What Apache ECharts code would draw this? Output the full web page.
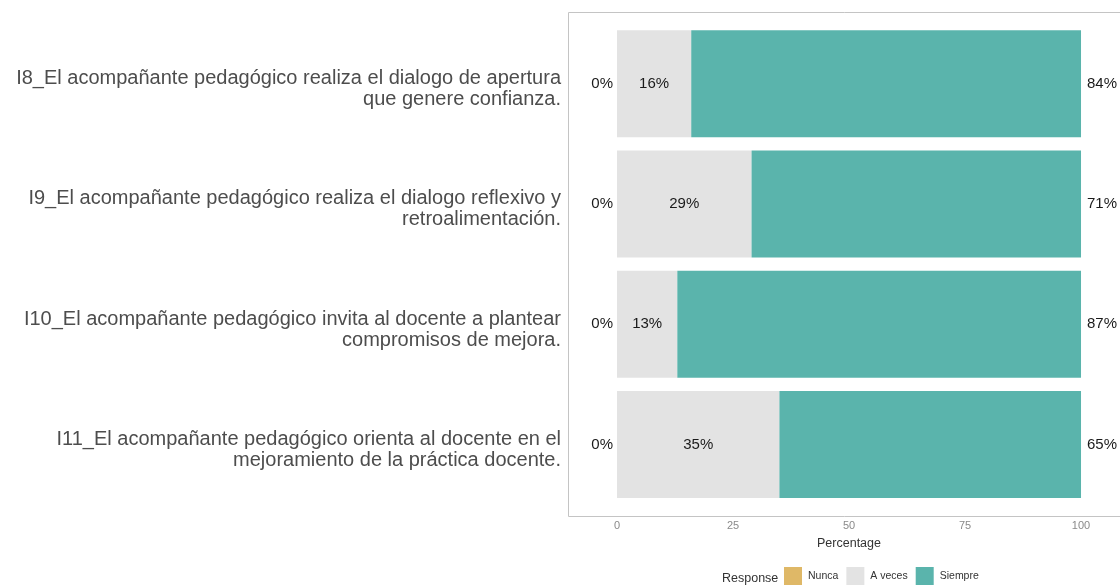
<!DOCTYPE html>
<html>
<head>
<meta charset="utf-8">
<script src="https://cdn.jsdelivr.net/npm/echarts@6/dist/echarts.min.js"></script>
<style>
  html, body { margin: 0; padding: 0; background: #fff; }
  #container { width: 1120px; height: 585px; }
</style>
</head>
<body>
<div id="container"></div>
<script type="text/javascript">
    // items, top to bottom
    var items = [
        'I8_El acompañante pedagógico realiza el dialogo de apertura\nque genere confianza.',
        'I9_El acompañante pedagógico realiza el dialogo reflexivo y\nretroalimentación.',
        'I10_El acompañante pedagógico invita al docente a plantear\ncompromisos de mejora.',
        'I11_El acompañante pedagógico orienta al docente en el\nmejoramiento de la práctica docente.'
    ];
    var nunca = [0, 0, 0, 0];
    var aveces = [16, 29, 13, 35];
    var siempre = [84, 71, 87, 65];
    var xTicks = [0, 25, 50, 75, 100];

    var chartDom = document.getElementById('container');
    var myChart = echarts.init(chartDom);
    var option;

    const colors = ['#DFB867', '#E3E3E3', '#5AB4AC'];
    const pct = function (p) { return p.value + '%'; };

    option = {
        color: colors,
        animation: false,
        textStyle: { fontFamily: 'Liberation Sans, Arial, sans-serif' },
        grid: {
            left: 568,
            right: 0,
            top: 23.5,
            bottom: 80.5
        },
        graphic: [
            {
                // panel border
                type: 'rect',
                shape: { x: 568.5, y: 12.5, width: 600, height: 504 },
                style: { fill: 'none', stroke: '#c4c4c4', lineWidth: 1 },
                z: -1
            },
            {
                type: 'text',
                x: 722, y: 572,
                style: { text: 'Response', fontSize: 12.5, fill: '#333', fontFamily: 'Liberation Sans, Arial, sans-serif' }
            }
        ],
        legend: {
            data: ['Nunca', 'A veces', 'Siempre'],
            left: 784,
            top: 567,
            padding: 0,
            itemWidth: 18,
            itemHeight: 18,
            itemGap: 8,
            icon: 'rect',
            textStyle: { fontSize: 10.5, color: '#333', padding: [4, 0, 0, 1] }
        },
        xAxis: {
            type: 'value',
            min: -10.56,
            max: 108.4,
            offset: 12,
            name: 'Percentage',
            nameLocation: 'middle',
            nameGap: 21,
            nameTextStyle: { fontSize: 12.5, color: '#333', padding: [0, 0, 0, 10] },
            axisLine: { show: false },
            axisTick: { show: false },
            splitLine: { show: false },
            axisLabel: {
                customValues: xTicks,
                fontSize: 11,
                color: '#8a8a8a',
                margin: 4
            }
        },
        yAxis: {
            type: 'category',
            inverse: true,
            data: items,
            axisLine: { show: false },
            axisTick: { show: false },
            axisLabel: {
                margin: 7,
                align: 'right',
                // empty first line pushes the two text lines down a little
                formatter: function (v) {
                    return '{gap| }\n{t|' + v.split('\n').join('}\n{t|') + '}';
                },
                rich: {
                    gap: { fontSize: 4, lineHeight: 11 },
                    t: { fontSize: 20, lineHeight: 21, color: '#4d4d4d', align: 'right' }
                }
            }
        },
        series: [
            {
                name: 'Nunca',
                type: 'bar',
                stack: 'r',
                barWidth: 107,
                data: nunca,
                label: { show: true, position: 'left', distance: 4, formatter: pct, fontSize: 15, color: '#1a1a1a' }
            },
            {
                name: 'A veces',
                type: 'bar',
                stack: 'r',
                data: aveces,
                label: { show: true, position: 'inside', formatter: pct, fontSize: 15, color: '#1a1a1a' }
            },
            {
                name: 'Siempre',
                type: 'bar',
                stack: 'r',
                data: siempre,
                label: { show: true, position: 'right', distance: 6, formatter: pct, fontSize: 15, color: '#1a1a1a' }
            }
        ]
    };

    option && myChart.setOption(option);
</script>
</body>
</html>
